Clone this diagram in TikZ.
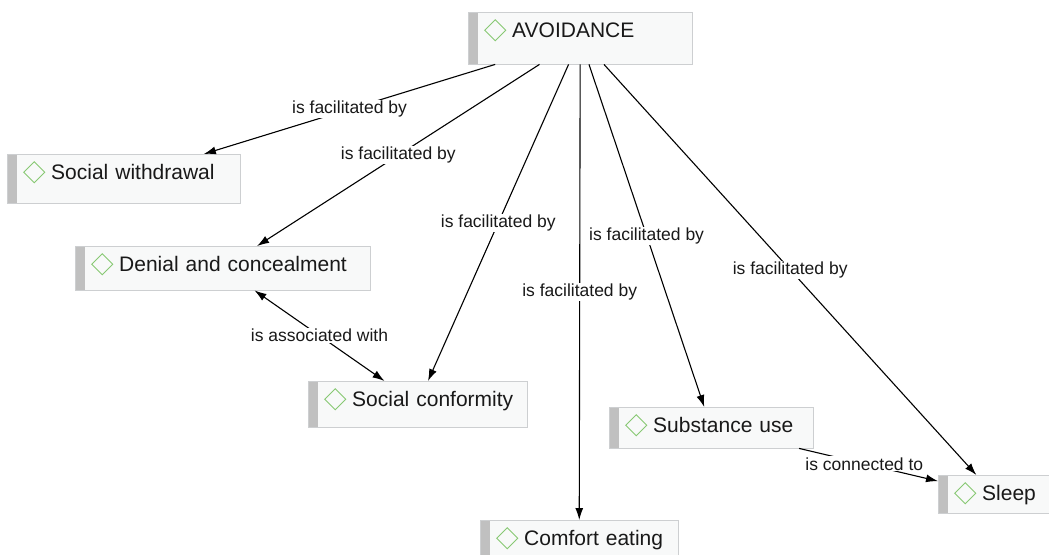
\documentclass[tikz,border=0pt]{standalone}
\usepackage{fontspec}
\setmainfont{Liberation Sans}
\usetikzlibrary{arrows.meta}
\definecolor{boxline}{RGB}{205,207,209}
\definecolor{boxfill}{RGB}{248,249,249}
\definecolor{bargray}{RGB}{192,192,192}
\definecolor{markgreen}{RGB}{135,200,115}
\definecolor{inktext}{RGB}{25,25,25}
\begin{document}
\begin{tikzpicture}[x=1pt,y=-1pt]
  \def\barwidth{10pt}
  \tikzstyle{concept} = [rectangle, draw=boxline, fill=boxfill, anchor=north west,
    inner sep=0pt, align=left, text height=25pt, text=inktext,
    font=\fontsize{21}{25}\selectfont, execute at begin node={\hspace*{44pt}},
    path picture={
      \fill[bargray] (path picture bounding box.north west)
        rectangle ([xshift=\barwidth]path picture bounding box.south west);
      \draw[markgreen, line width=0.9pt]
        ([xshift=16.5pt,yshift=-18pt]path picture bounding box.north west)
        -- ++(10.5pt,10.5pt) -- ++(10.5pt,-10.5pt) -- ++(-10.5pt,-10.5pt) -- cycle;
    }]
  \tikzstyle{link} = [line width=1.1pt, >={Latex[length=12pt,width=8pt]}]
  \tikzstyle{lbl} = [fill=white, inner sep=1pt, text=inktext, font=\fontsize{17.5}{20}\selectfont]

  \useasboundingbox (0,0) rectangle (1049,554);
  \clip (0,0) rectangle (1049,554);

  % concepts
  \node[concept, text width=224pt, text depth=27pt] (avoid) at (468,12) {AVOIDANCE};
  \node[concept, text width=233pt, text depth=24pt] (withdraw) at (7,154) {Social withdrawal};
  \node[concept, text width=295pt, text depth=19pt] (denial) at (75,246) {Denial and concealment};
  \node[concept, text width=219pt, text depth=21pt] (conform) at (308,381) {Social conformity};
  \node[concept, text width=204pt, text depth=16pt] (substance) at (609,407) {Substance use};
  \node[concept, text width=111pt, text depth=13pt] (sleep) at (938,475) {Sleep};
  \node[concept, text width=198pt, text depth=20pt] (eating) at (480,520) {Comfort eating};

  % links
  \draw[link, ->] (avoid) -- node[lbl] (f1) {is facilitated by} (withdraw);
  \draw[link, ->] (avoid) -- node[lbl] (f2) {is facilitated by} (denial);
  \draw[link, ->] (avoid) -- node[lbl] (f3) {is facilitated by} (conform);
  \draw[link, ->] (avoid) -- node[lbl] (f4) {is facilitated by} (eating);
  \draw[link, ->] (avoid) -- node[lbl] (f5) {is facilitated by} (substance);
  \draw[link, ->] (avoid) -- node[lbl] (f6) {is facilitated by} (sleep);
  \draw[link, <->] (denial) -- node[lbl] (a1) {is associated with} (conform);
  \draw[link, ->] (substance) -- node[lbl, pos=0.47] (c1) {is connected to} (sleep);
\end{tikzpicture}
\end{document}
